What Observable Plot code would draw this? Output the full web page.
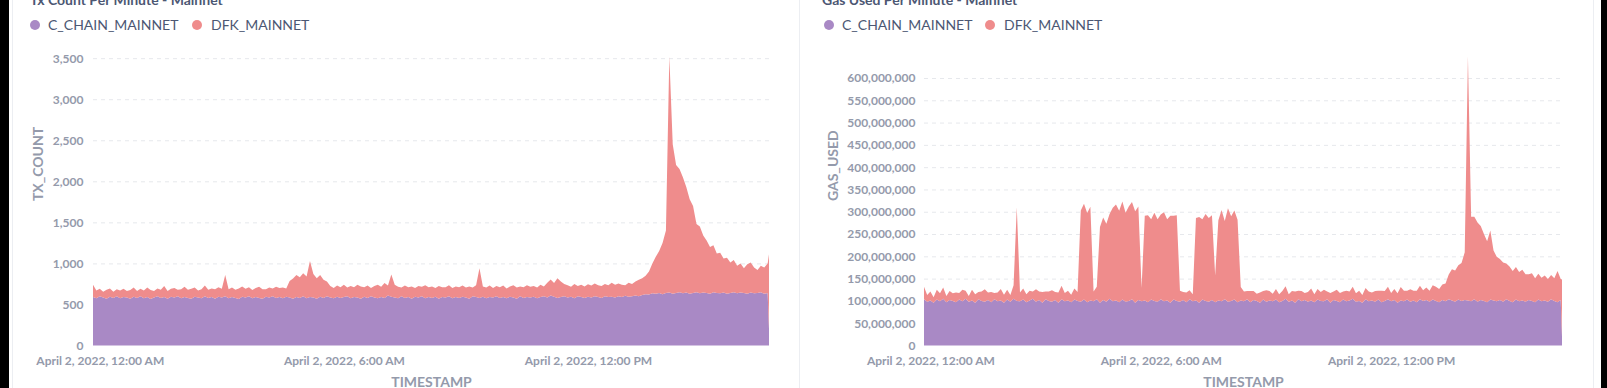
<!DOCTYPE html>
<html><head><meta charset="utf-8">
<script src="https://cdn.jsdelivr.net/npm/d3@7"></script>
<script src="https://cdn.jsdelivr.net/npm/@observablehq/plot@0.6"></script>
<style>
html,body{margin:0;padding:0;background:#fff;}
#root{position:relative;width:1607px;height:388px;overflow:hidden;font-family:Lato,sans-serif;background:#fff;}
.blk{position:absolute;top:0;height:388px;background:#000;z-index:5;}
.vline{position:absolute;top:0;width:1px;height:388px;background:#eceef2;z-index:4;}
.title{position:absolute;top:-7px;font-size:14px;font-weight:700;color:#4c5773;white-space:nowrap;line-height:14px;}
.dot{position:absolute;width:10px;height:10px;border-radius:50%;}
.ltxt{position:absolute;font-size:14px;color:#4c5773;white-space:nowrap;line-height:14px;}
.chart{position:absolute;top:0;}
.chart svg text{font-weight:700;}
</style></head>
<body><div id="root"></div>
<script>
// ---- data ----
const seriesNames = ["C_CHAIN_MAINNET", "DFK_MAINNET"];
const seriesColors = ["#A989C5", "#EF8C8C"];
const titles = ["Tx Count Per Minute - Mainnet", "Gas Used Per Minute - Mainnet"];
const yLabels = ["TX_COUNT", "GAS_USED"];
const xLabel = "TIMESTAMP";
const startTime = "2022-04-01T23:50:00Z";   // first sample
const stepMinutes = 5;                      // sampling of the per-minute series
const lastSampleMinute = 997;               // final (partial) minute, 16:27
const xTickTimes = ["2022-04-02T00:00:00Z", "2022-04-02T06:00:00Z", "2022-04-02T12:00:00Z"];
const xTickLabels = ["April 2, 2022, 12:00 AM", "April 2, 2022, 6:00 AM", "April 2, 2022, 12:00 PM"];
const txTicks = [0, 500, 1000, 1500, 2000, 2500, 3000, 3500];
const gasTicks = [0, 50e6, 100e6, 150e6, 200e6, 250e6, 300e6, 350e6, 400e6, 450e6, 500e6, 550e6, 600e6];
const txMax = 3530;
const gasMax = 650e6;

const cChainTx = [
590,575,600,585,570,595,580,600,575,590,
585,570,595,580,600,575,590,565,585,600,
580,590,570,595,585,600,575,590,580,570,
595,585,575,600,580,590,570,595,585,600,
575,590,580,565,595,585,600,575,590,580,
570,595,585,600,580,590,575,595,585,570,
590,580,600,575,590,585,570,595,580,600,
585,575,595,580,590,600,575,590,585,570,
595,580,600,585,575,590,580,610,595,585,
575,600,580,590,570,595,585,600,575,590,
580,595,570,590,585,600,575,590,580,595,
585,570,600,590,580,595,575,590,585,600,
580,590,575,595,585,570,600,580,590,585,
595,575,590,600,585,610,595,580,590,600,
585,595,575,600,590,580,595,585,600,590,
580,600,590,595,585,600,590,605,595,600,
610,600,615,625,620,635,630,640,625,640,
645,630,640,650,635,645,630,640,650,635,
645,640,630,650,640,635,645,630,640,650,
635,645,640,630,645,635,640,650,630,640,
200];

const dfkTx = [
150,95,90,70,110,100,75,85,95,100,
80,105,110,85,90,95,115,110,80,95,
100,135,95,95,115,80,110,125,100,120,
110,85,110,130,100,105,115,115,105,260,
110,115,100,130,125,105,110,100,110,135,
115,90,120,95,135,110,130,100,200,245,
270,250,280,265,440,285,250,265,220,180,
140,125,135,130,150,105,150,120,155,150,
115,150,100,140,165,125,180,120,271,155,
140,105,150,120,150,105,140,115,160,120,
140,105,155,120,125,135,125,130,130,135,
120,150,105,145,360,125,130,140,115,125,
130,140,120,125,150,135,120,130,145,130,
130,130,150,120,180,195,165,240,190,150,
150,120,175,125,150,140,150,145,155,145,
145,150,145,170,155,155,150,130,170,150,
170,200,205,225,280,365,450,510,625,760,
2875,1820,1560,1500,1415,1285,1150,1060,830,815,
695,640,570,570,480,495,415,440,370,390,
335,355,300,360,365,315,280,320,320,360,
910];

// gas values in millions
const cChainGasM = [
104,98,101,96,103,99,105,97,102,100,
97,103,99,105,98,101,96,104,100,98,
102,97,104,99,101,96,103,98,105,100,
99,103,97,101,105,98,102,96,104,100,
98,102,96,104,99,101,97,103,100,98,
103,97,101,99,104,96,102,98,105,99,
101,97,103,98,100,104,96,102,99,101,
97,103,100,98,104,99,101,96,103,100,
98,102,97,104,99,101,96,103,100,98,
102,97,101,99,104,98,100,103,97,101,
99,104,97,102,100,96,103,98,101,99,
103,97,100,105,98,101,96,104,99,102,
98,101,97,103,100,99,104,96,102,100,
97,103,99,101,105,98,100,96,104,99,
101,98,103,97,100,104,99,102,96,101,
99,103,98,101,97,104,100,102,98,103,
100,97,102,99,104,101,98,103,100,102,
101,99,104,98,102,100,97,103,101,99,
102,98,104,100,97,103,99,101,98,102,
100,97,103,99,101,98,104,100,97,102,
20];

const dfkGasM = [
28,15,20,12,22,18,25,14,20,17,
22,15,26,18,13,24,19,16,21,28,
17,23,14,20,26,18,22,15,30,210,
20,25,18,22,16,28,19,24,17,21,
26,18,23,30,19,22,17,25,20,205,
215,200,210,22,28,170,185,175,190,210,
215,205,220,200,212,218,205,210,30,190,
195,180,198,185,190,200,182,195,188,192,
25,18,22,20,16,185,192,180,195,188,
190,60,180,205,175,210,190,200,185,30,
22,18,25,20,16,23,19,26,21,17,
24,18,22,28,17,21,25,19,23,16,
22,27,18,24,20,26,17,22,19,25,
21,18,24,20,27,19,23,17,25,22,
18,24,20,26,22,28,19,25,21,30,
24,20,28,22,26,30,24,28,25,32,
32,30,35,40,55,70,70,77,85,107,
548,190,185,178,166,150,137,155,112,100,
92,88,80,77,70,73,66,69,62,58,
62,54,58,53,56,51,54,51,70,47,
128];

// ---- build ----
const t0 = new Date(startTime).getTime();
const sampleTimes = cChainTx.map((_, i) =>
  new Date(t0 + (i === cChainTx.length - 1 ? lastSampleMinute : i * stepMinutes) * 60000));
const xDomain = [new Date(t0), new Date(t0 + lastSampleMinute * 60000)];
const tickDates = xTickTimes.map(s => new Date(s));
const tickLabelMap = new Map(tickDates.map((d, i) => [+d, xTickLabels[i]]));

function table(a, b, scale = 1) {
  const rows = [];
  sampleTimes.forEach((t, i) => {
    rows.push({t, series: seriesNames[0], v: a[i] * scale});
    rows.push({t, series: seriesNames[1], v: b[i] * scale});
  });
  return rows;
}
const txRows = table(cChainTx, dfkTx);
const gasRows = table(cChainGasM, dfkGasM, 1e6);

const root = document.getElementById("root");
function add(cls, style, text) {
  const el = document.createElement("div");
  el.className = cls;
  Object.assign(el.style, style);
  if (text) el.textContent = text;
  root.appendChild(el);
  return el;
}

function chart(rows, ticks, yMax, yLabel, opts) {
  return Plot.plot({
    width: opts.width, height: 388,
    marginLeft: opts.ml, marginRight: opts.mr, marginTop: 55.7, marginBottom: 42.5,
    style: {background: "transparent", fontFamily: "Lato, sans-serif", fontSize: "12px", color: "#949aab"},
    x: {type: "utc", domain: xDomain},
    y: {domain: [0, yMax]},
    color: {domain: seriesNames, range: seriesColors},
    marks: [
      Plot.gridY(ticks.slice(1), {stroke: "#e6e8ec", strokeOpacity: 1, strokeDasharray: "4,4"}),
      Plot.areaY(rows, {x: "t", y: "v", fill: "series", order: seriesNames, curve: "linear"}),
      Plot.axisY(ticks, {tickSize: 0, tickPadding: opts.pad, tickFormat: d3.format(","), label: null, fill: "#949aab"}),
      Plot.axisX(tickDates, {tickSize: 0, tickPadding: 10, tickFormat: d => tickLabelMap.get(+d), label: null, fill: "#949aab"}),
      Plot.text([yLabel], {text: d => d, frameAnchor: "left", dx: -opts.yl, rotate: -90, fill: "#949aab", fontSize: 14, fontWeight: 700}),
      Plot.text([xLabel], {text: d => d, frameAnchor: "bottom", lineAnchor: "bottom", dy: 40.5, fill: "#949aab", fontSize: 14, fontWeight: 700})
    ]
  });
}

const c1 = add("chart", {left: "0px", width: "800px"});
c1.appendChild(chart(txRows, txTicks, txMax, yLabels[0], {width: 800, ml: 93, mr: 31, pad: 10, yl: 55}));
const c2 = add("chart", {left: "800px", width: "807px"});
c2.appendChild(chart(gasRows, gasTicks, gasMax, yLabels[1], {width: 807, ml: 124, mr: 45, pad: 9, yl: 91}));

// titles & legends
const panelX = [30, 822];
titles.forEach((t, p) => {
  add("title", {left: panelX[p] + "px"}, t);
  const dotX = p === 0 ? [30, 192] : [824, 985];
  const txtX = p === 0 ? [48, 211] : [842, 1004];
  seriesNames.forEach((s, k) => {
    add("dot", {left: dotX[k] + "px", top: "20px", background: seriesColors[k]});
    add("ltxt", {left: txtX[k] + "px", top: "18px"}, s);
  });
});

// card borders and black edges
add("vline", {left: "12px"});
add("vline", {left: "799px"});
add("vline", {left: "1593px"});
add("blk", {left: "0px", width: "9px"});
add("blk", {left: "1601px", width: "6px"});
</script>
</body></html>
